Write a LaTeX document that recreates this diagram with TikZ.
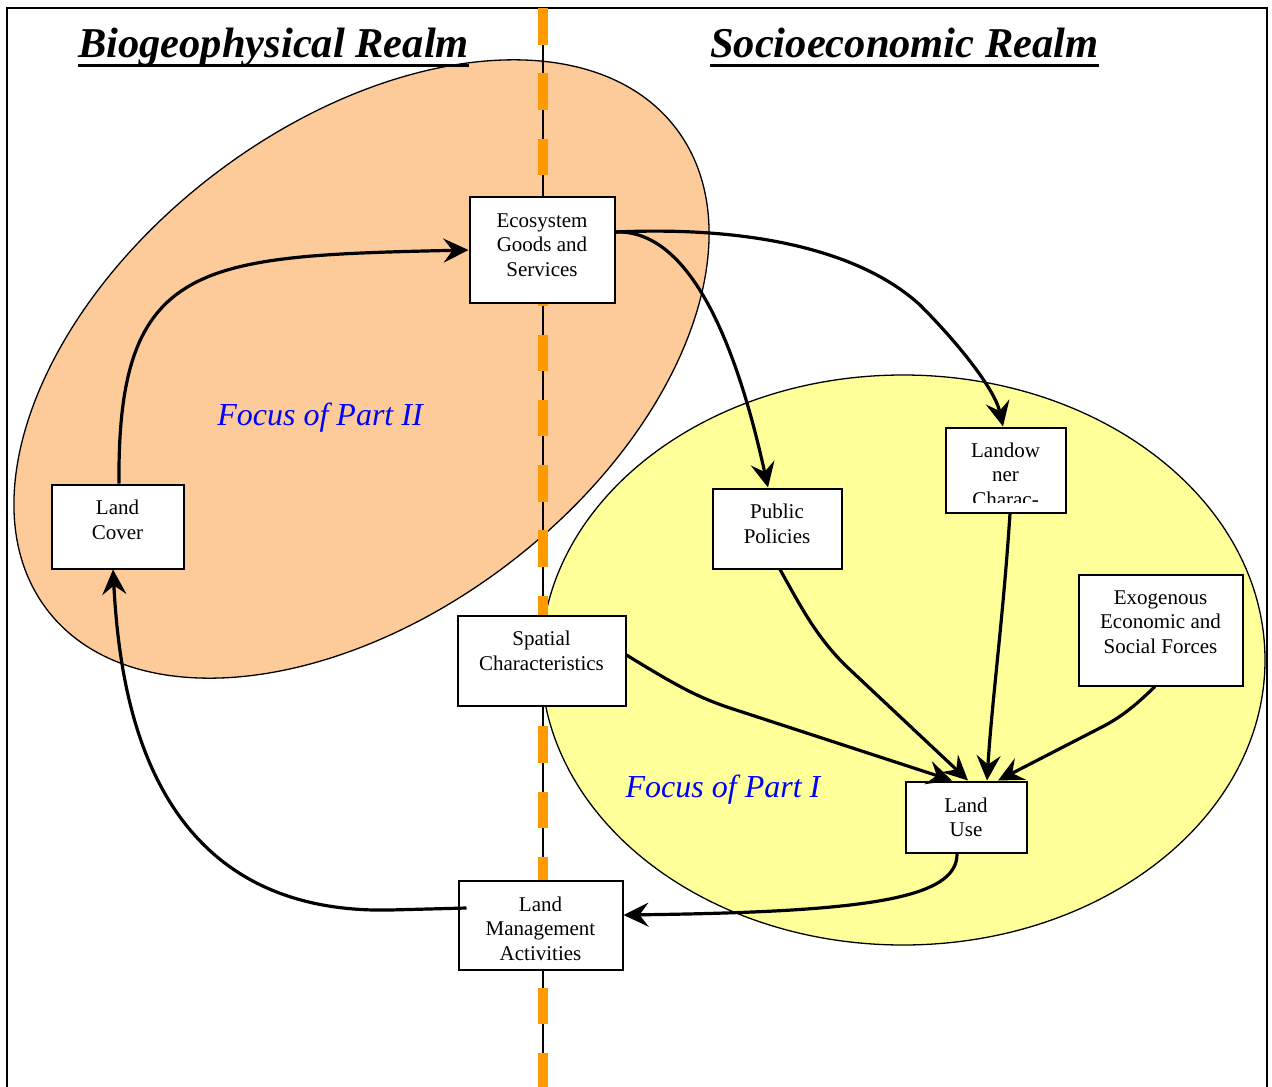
\documentclass[tikz,border=0pt]{standalone}
\usepackage{fontspec}
\setmainfont{Liberation Serif}
\usetikzlibrary{arrows.meta}
\definecolor{peach}{RGB}{253,203,153}
\definecolor{paleyellow}{RGB}{255,255,153}
\definecolor{dashorange}{RGB}{255,153,0}
\begin{document}
\begin{tikzpicture}[x=1pt,y=-1pt,
  box/.style={draw=black, line width=2pt, fill=white, inner sep=0pt},
  boxtext/.style={font=\fontsize{21}{24.5}\selectfont, align=center, inner sep=0pt,
    execute at begin node=\strut, execute at end node=\strut},
  realm/.style={font=\fontsize{42.5}{50}\selectfont\bfseries\itshape, inner sep=0pt, anchor=base west},
  focus/.style={font=\fontsize{32}{38}\selectfont\itshape, text=blue, inner sep=0pt, anchor=base},
  link/.style={line width=3.2pt, -{Stealth[length=25pt,width=24pt,inset=9pt]}},
  region/.style={draw=black, line width=1.3pt}
]
\useasboundingbox (0,0) rectangle (1272,1087);

% page frame (open at the bottom)
\draw[line width=2pt] (7,1087) -- (7,8) -- (1267,8) -- (1267,1087);

% the two focus regions
\fill[peach, rotate around={37.5:(361.5,369)}] (361.5,369) ellipse [x radius=396, y radius=244];
\draw[region, rotate around={37.5:(361.5,369)}] (361.5,369) ellipse [x radius=396, y radius=244];
\fill[paleyellow] (903,660) ellipse [x radius=362, y radius=285];
\draw[region] (903,660) ellipse [x radius=362, y radius=285];

% divider between the realms
\draw[line width=1.3pt] (543,8) -- (543,1087);
\draw[dashorange, line width=10pt, dash pattern=on 36.5pt off 28.8pt] (543,8) -- (543,1087);

% realm headings
\node[realm] (bioT) at (78,57) {Biogeophysical Realm};
\draw[line width=3pt] ([yshift=-8pt]bioT.base west) -- ([yshift=-8pt]bioT.base east);
\node[realm] (socT) at (710,57) {Socioeconomic Realm};
\draw[line width=3pt] ([yshift=-8pt]socT.base west) -- ([yshift=-8pt]socT.base east);

% focus labels
\node[focus] (f2) at (320,425) {Focus of Part II};
\node[focus] (f1) at (723,797) {Focus of Part I};

% boxes
\node[box, minimum width=145pt, minimum height=106pt] (eco) at (542,249.5) {};
\node[box, minimum width=132pt, minimum height=84pt]  (lc)  at (117.5,526.5) {};
\node[box, minimum width=129pt, minimum height=80pt]  (pp)  at (777,528.5) {};
\node[box, minimum width=120pt, minimum height=85pt]  (lo)  at (1005.5,470) {};
\node[box, minimum width=164pt, minimum height=111pt] (ex)  at (1160.5,630) {};
\node[box, minimum width=168pt, minimum height=90pt]  (sp)  at (541.5,660.5) {};
\node[box, minimum width=121pt, minimum height=71pt]  (lu)  at (966,817) {};
\node[box, minimum width=164pt, minimum height=89pt]  (lm)  at (540.5,925) {};

% box texts
\node[boxtext] (ecoT) at (542,248.5) {Ecosystem\\Goods and\\Services};
\node[boxtext] (lcT)  at (117.5,523.5) {Land\\Cover};
\node[boxtext] (ppT)  at (777,527.5) {Public\\Policies};
\begin{scope}
  \clip (945,427) rectangle (1066,502.5);
  \node[boxtext] (loT) at (1005.5,478) {Landow\\ner\\Charac-};
\end{scope}
\node[boxtext] (exT)  at (1160.5,625.5) {Exogenous\\Economic and\\Social Forces};
\node[boxtext] (spT)  at (541.5,654.5) {Spatial\\Characteristics};
\node[boxtext] (luT)  at (966,821) {Land\\Use};
\node[boxtext] (lmT)  at (540.5,932) {Land\\Management\\Activities};

% connectors
\draw[link] (lc.north -| 119,0) .. controls (117,260) and (200,256) .. (eco.west |- 0,250);
\draw[link] (eco.east |- 0,232) .. controls (695,229) and (740,360) .. (pp.north -| 768,0);
\draw[link] (eco.east |- 0,232) .. controls (750,226) and (860,250) .. (920,305)
            .. controls (960,345) and (995,390) .. (lo.north -| 1003,0);
\draw[link] (pp.south -| 780,0) .. controls (800,605) and (815,635) .. (845,665) -- (lu.north -| 968,0);
\draw[link] (lo.south -| 1010,0) .. controls (1003,620) and (992,700) .. (lu.north -| 987,0);
\draw[link] (ex.south -| 1155,0) .. controls (1135,706) and (1120,718) .. (1100,728) -- (lu.north -| 998,0);
\draw[link] (sp.east |- 0,655) .. controls (680,688) and (700,698) .. (730,708) -- (lu.north -| 952,0);
\draw[link] (lu.south -| 957,0) .. controls (958,900) and (860,912) .. (lm.east |- 0,915);
\draw[link] (lm.west |- 0,908) ++(9,0) -- (390,910) .. controls (150,915) and (120,700) .. (lc.south -| 113,0);
\end{tikzpicture}
\end{document}
